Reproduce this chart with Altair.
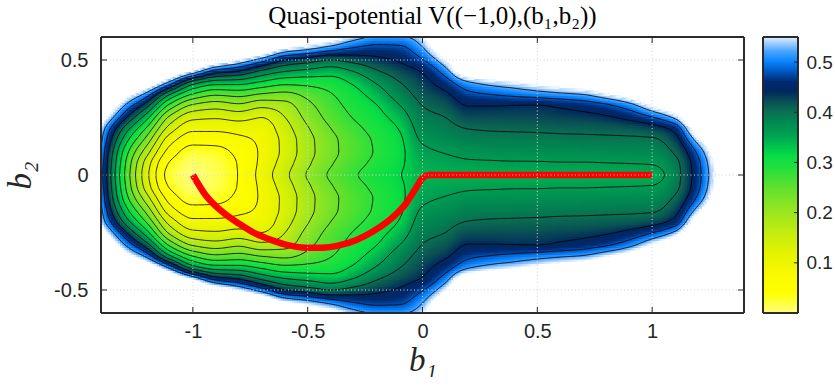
import numpy as np
import pandas as pd
import altair as alt

# ---------------------------------------------------------------------------
# Quasi-potential V((-1,0),(b1,b2)) sampled on a coarse lattice.
# Columns: b1 from -1.4 to 1.4 (step 0.1); rows: b2 >= 0 (step 0.05).
# The field is symmetric in b2, the lower half is the mirror image.
# ---------------------------------------------------------------------------
b1_nodes = [-1.4, -1.3, -1.2, -1.1, -1.0, -0.9, -0.8, -0.7, -0.6, -0.5,
            -0.4, -0.3, -0.2, -0.1, 0.0, 0.1, 0.2, 0.3, 0.4, 0.5,
            0.6, 0.7, 0.8, 0.9, 1.0, 1.1, 1.2, 1.3, 1.4]
b2_nodes = [0.0, 0.05, 0.1, 0.15, 0.2, 0.25, 0.3, 0.35, 0.4, 0.45, 0.5, 0.55, 0.6]

v_b2_000 = [0.500, 0.285, 0.130, 0.025, 0.000, 0.012, 0.042, 0.095, 0.149, 0.204, 0.246, 0.275, 0.298, 0.318,
            0.340, 0.342, 0.342, 0.342, 0.342, 0.342, 0.342, 0.343, 0.343, 0.344, 0.345, 0.385, 0.465, 0.600, 0.800]
v_b2_005 = [0.505, 0.292, 0.140, 0.036, 0.006, 0.016, 0.043, 0.090, 0.139, 0.193, 0.236, 0.266, 0.290, 0.313,
            0.344, 0.350, 0.355, 0.356, 0.357, 0.357, 0.358, 0.358, 0.359, 0.360, 0.362, 0.390, 0.470, 0.610, 0.810]
v_b2_010 = [0.515, 0.310, 0.175, 0.063, 0.023, 0.028, 0.050, 0.087, 0.131, 0.185, 0.228, 0.259, 0.284, 0.310,
            0.352, 0.362, 0.369, 0.371, 0.372, 0.373, 0.374, 0.375, 0.376, 0.377, 0.378, 0.405, 0.490, 0.640, 0.840]
v_b2_015 = [0.530, 0.345, 0.220, 0.095, 0.053, 0.053, 0.068, 0.089, 0.132, 0.186, 0.229, 0.260, 0.286, 0.313,
            0.364, 0.375, 0.385, 0.387, 0.388, 0.389, 0.390, 0.391, 0.392, 0.393, 0.394, 0.425, 0.540, 0.700, 0.900]
v_b2_020 = [0.548, 0.390, 0.270, 0.140, 0.088, 0.088, 0.095, 0.099, 0.142, 0.196, 0.239, 0.269, 0.294, 0.322,
            0.376, 0.388, 0.400, 0.403, 0.404, 0.405, 0.407, 0.408, 0.410, 0.413, 0.422, 0.452, 0.620, 0.780, 0.980]
v_b2_025 = [0.600, 0.455, 0.333, 0.190, 0.130, 0.124, 0.133, 0.120, 0.159, 0.212, 0.253, 0.282, 0.306, 0.337,
            0.388, 0.400, 0.420, 0.421, 0.421, 0.422, 0.425, 0.428, 0.435, 0.450, 0.477, 0.530, 0.720, 0.880, 1.080]
v_b2_030 = [0.680, 0.520, 0.410, 0.264, 0.190, 0.175, 0.188, 0.168, 0.183, 0.228, 0.264, 0.293, 0.318, 0.358,
            0.400, 0.415, 0.440, 0.440, 0.438, 0.437, 0.445, 0.455, 0.470, 0.500, 0.560, 0.640, 0.820, 0.980, 1.180]
v_b2_035 = [0.780, 0.600, 0.500, 0.360, 0.275, 0.245, 0.253, 0.235, 0.228, 0.252, 0.277, 0.305, 0.338, 0.380,
            0.413, 0.433, 0.469, 0.480, 0.490, 0.500, 0.510, 0.520, 0.550, 0.590, 0.660, 0.750, 0.920, 1.080, 1.280]
v_b2_040 = [0.880, 0.700, 0.620, 0.500, 0.375, 0.335, 0.332, 0.310, 0.290, 0.292, 0.300, 0.325, 0.362, 0.398,
            0.426, 0.460, 0.512, 0.535, 0.550, 0.570, 0.590, 0.610, 0.640, 0.690, 0.760, 0.850, 1.020, 1.180, 1.380]
v_b2_045 = [0.980, 0.800, 0.750, 0.650, 0.550, 0.460, 0.435, 0.390, 0.360, 0.348, 0.338, 0.360, 0.395, 0.420,
            0.443, 0.500, 0.620, 0.640, 0.660, 0.680, 0.700, 0.720, 0.750, 0.790, 0.860, 0.950, 1.120, 1.280, 1.480]
v_b2_050 = [1.080, 0.900, 0.880, 0.800, 0.720, 0.620, 0.560, 0.500, 0.440, 0.420, 0.400, 0.415, 0.430, 0.445,
            0.477, 0.560, 0.750, 0.770, 0.780, 0.800, 0.820, 0.840, 0.860, 0.890, 0.960, 1.050, 1.220, 1.380, 1.580]
v_b2_055 = [1.180, 1.000, 1.000, 0.950, 0.900, 0.780, 0.700, 0.640, 0.560, 0.530, 0.500, 0.475, 0.465, 0.470,
            0.515, 0.650, 0.850, 0.870, 0.880, 0.900, 0.920, 0.940, 0.960, 0.990, 1.060, 1.150, 1.320, 1.480, 1.680]
v_b2_060 = [1.280, 1.100, 1.120, 1.100, 1.050, 0.950, 0.850, 0.780, 0.700, 0.630, 0.590, 0.540, 0.515, 0.515,
            0.550, 0.750, 0.950, 0.970, 0.980, 1.000, 1.020, 1.040, 1.060, 1.090, 1.160, 1.250, 1.420, 1.580, 1.780]

v_rows = [v_b2_000, v_b2_005, v_b2_010, v_b2_015, v_b2_020, v_b2_025, v_b2_030,
          v_b2_035, v_b2_040, v_b2_045, v_b2_050, v_b2_055, v_b2_060]

# minimum action path from (-1,0) to (1,0)
path_b1 = [-1.0, -0.945, -0.872, -0.800, -0.727, -0.654, -0.581, -0.509, -0.436, -0.363,
           -0.290, -0.218, -0.145, -0.072, -0.029, 0.0, 0.03, 0.1, 1.0]
path_b2 = [0.0, -0.087, -0.160, -0.211, -0.255, -0.284, -0.306, -0.316, -0.316, -0.306,
           -0.284, -0.247, -0.197, -0.124, -0.058, -0.014, 0.0, 0.0, 0.0]

contour_levels = [0.04, 0.08, 0.12, 0.16, 0.20, 0.24, 0.28, 0.32, 0.36, 0.40, 0.44, 0.48, 0.52]
b1_ticks = [-1, -0.5, 0, 0.5, 1]
b2_ticks = [-0.5, 0, 0.5]
cbar_ticks = [0.1, 0.2, 0.3, 0.4, 0.5]

# colormap: yellow -> green -> navy -> light blue
cmap_stops = [0.000, 0.040, 0.080, 0.120, 0.160, 0.200, 0.250, 0.290, 0.310, 0.330, 0.350,
              0.380, 0.400, 0.420, 0.440, 0.460, 0.480, 0.500, 0.520, 0.540, 0.550]
cmap_colors = ["#ffff7a", "#ffff00", "#f8f800", "#e2f300", "#c2ec10", "#9ae620", "#5ee02e",
               "#1ee03e", "#0ade44", "#00c64c", "#00a552", "#008852", "#0a7052", "#0a5054",
               "#00285e", "#002a70", "#0058c0", "#0a84ff", "#48a4ff", "#b4d6ff", "#eef6ff"]
V_MAX = 0.55


def pchip(xk, yk, xq):
    """Shape-preserving piecewise cubic Hermite interpolation."""
    xk = np.asarray(xk, float)
    yk = np.asarray(yk, float)
    xq = np.asarray(xq, float)
    h = np.diff(xk)
    delta = np.diff(yk) / h
    n = len(xk)
    d = np.zeros(n)
    for k in range(1, n - 1):
        if delta[k - 1] * delta[k] > 0:
            w1 = 2 * h[k] + h[k - 1]
            w2 = h[k] + 2 * h[k - 1]
            d[k] = (w1 + w2) / (w1 / delta[k - 1] + w2 / delta[k])

    def end_slope(h0, h1, d0, d1):
        s = ((2 * h0 + h1) * d0 - h0 * d1) / (h0 + h1)
        if np.sign(s) != np.sign(d0):
            return 0.0
        if np.sign(d0) != np.sign(d1) and abs(s) > abs(3 * d0):
            return 3 * d0
        return s

    d[0] = end_slope(h[0], h[1], delta[0], delta[1])
    d[-1] = end_slope(h[-1], h[-2], delta[-1], delta[-2])
    idx = np.clip(np.searchsorted(xk, xq) - 1, 0, n - 2)
    t = (xq - xk[idx]) / h[idx]
    h00 = 2 * t**3 - 3 * t**2 + 1
    h10 = t**3 - 2 * t**2 + t
    h01 = -2 * t**3 + 3 * t**2
    h11 = t**3 - t**2
    return (h00 * yk[idx] + h10 * h[idx] * d[idx]
            + h01 * yk[idx + 1] + h11 * h[idx] * d[idx + 1])


# full symmetric lattice (b2 from -0.6 to 0.6)
b2_full = [-b for b in reversed(b2_nodes[1:])] + b2_nodes
rows_full = np.array(list(reversed(v_rows[1:])) + v_rows)

# fine rendering lattice
STEP = 0.01
xs = np.round(np.linspace(-1.4, 1.4, 281), 4)
ys = np.round(np.linspace(-0.6, 0.6, 121), 4)
Zy = np.column_stack([pchip(b2_full, rows_full[:, c], ys) for c in range(len(b1_nodes))])
Z = np.vstack([pchip(b1_nodes, Zy[r, :], xs) for r in range(len(ys))])


def trace_contours(level):
    """Marching squares on the fine lattice; returns polylines."""
    up = Z > level
    s = (up[:-1, :-1].astype(int) + up[:-1, 1:] + up[1:, :-1] + up[1:, 1:])
    js, iis = np.nonzero((s > 0) & (s < 4))
    nbr = {}

    def link(a, b):
        nbr.setdefault(a, []).append(b)
        nbr.setdefault(b, []).append(a)

    for j, i in zip(js, iis):
        c00, c10, c01, c11 = up[j, i], up[j, i + 1], up[j + 1, i], up[j + 1, i + 1]
        eb, et = ("h", j, i), ("h", j + 1, i)
        el, er = ("v", j, i), ("v", j, i + 1)
        crossed = []
        if c00 != c10:
            crossed.append(eb)
        if c10 != c11:
            crossed.append(er)
        if c01 != c11:
            crossed.append(et)
        if c00 != c01:
            crossed.append(el)
        if len(crossed) == 2:
            link(crossed[0], crossed[1])
        elif len(crossed) == 4:
            centre = (Z[j, i] + Z[j, i + 1] + Z[j + 1, i] + Z[j + 1, i + 1]) / 4 > level
            if centre == c00:
                link(eb, er)
                link(el, et)
            else:
                link(el, eb)
                link(et, er)

    def point(key):
        kind, j, i = key
        if kind == "h":
            z0, z1 = Z[j, i], Z[j, i + 1]
            f = (level - z0) / (z1 - z0)
            return xs[i] + f * (xs[i + 1] - xs[i]), ys[j]
        z0, z1 = Z[j, i], Z[j + 1, i]
        f = (level - z0) / (z1 - z0)
        return xs[i], ys[j] + f * (ys[j + 1] - ys[j])

    seen = set()
    lines = []
    starts = [k for k, v in nbr.items() if len(v) == 1] + list(nbr.keys())
    for s0 in starts:
        if s0 in seen:
            continue
        chain = [s0]
        seen.add(s0)
        cur = s0
        while True:
            nxt = [n for n in nbr[cur] if n not in seen]
            if not nxt:
                if len(chain) > 2 and s0 in nbr[cur]:
                    chain.append(s0)
                break
            cur = nxt[0]
            seen.add(cur)
            chain.append(cur)
        lines.append([point(k) for k in chain])
    return lines


# heat-map cells (everything above V_MAX is left white)
XX, YY = np.meshgrid(xs, ys)
inside = Z <= V_MAX + 0.005
heat_df = pd.DataFrame({"x": XX[inside], "y": YY[inside], "v": np.round(Z[inside], 4)})

# contour polylines
crow = []
pid = 0
for lev in contour_levels:
    for line in trace_contours(lev):
        for k, (px, py) in enumerate(line):
            crow.append({"pid": pid, "k": k, "x": round(float(px), 4), "y": round(float(py), 4)})
        pid += 1
contour_df = pd.DataFrame(crow)

path_df = pd.DataFrame({"x": path_b1, "y": path_b2})
xt_df = pd.DataFrame({"t": b1_ticks})
yt_df = pd.DataFrame({"t": b2_ticks})

W, H = 643, 276
AX = "#262626"

cscale = alt.Scale(domain=cmap_stops, range=cmap_colors, interpolate="rgb", clamp=True)
xscale = alt.Scale(domain=[-1.4, 1.4], nice=False, zero=False)
yscale = alt.Scale(domain=[-0.6, 0.6], nice=False, zero=False)
minus_expr = "datum.value < 0 ? '-' + format(-datum.value, '~g') : format(datum.value, '~g')"
x_axis = alt.Axis(values=b1_ticks, title="b₁", labelExpr=minus_expr, labelPadding=8,
                  titlePadding=3, labelFlush=False)
y_axis = alt.Axis(values=b2_ticks, title="b₂", labelExpr=minus_expr, labelPadding=13,
                  titlePadding=16, labelFlush=False)


def X(field):
    return alt.X(field, type="quantitative", scale=xscale, axis=x_axis)


def Y(field):
    return alt.Y(field, type="quantitative", scale=yscale, axis=y_axis)


half = STEP * 0.72
heat = alt.Chart(heat_df).mark_rect(clip=True, strokeWidth=0).transform_calculate(
    x1=f"datum.x - {half}", x2=f"datum.x + {half}",
    y1=f"datum.y - {half}", y2=f"datum.y + {half}",
).encode(
    x=X("x1"), x2="x2:Q", y=Y("y1"), y2="y2:Q",
    color=alt.Color("v:Q", scale=cscale, legend=None),
)

contours = alt.Chart(contour_df).mark_line(color="black", strokeWidth=0.8, clip=True).encode(
    x=X("x"), y=Y("y"), detail="pid:N", order="k:Q"
)

red_path = alt.Chart(path_df).mark_line(color="#ff0000", strokeWidth=6.5, interpolate="monotone",
                                        strokeCap="butt").encode(x=X("x"), y=Y("y"))

grid_x = alt.Chart(xt_df).mark_rule(color="#d6d6d6", strokeWidth=1, strokeDash=[1, 2.5]).encode(x=X("t"))
grid_y = alt.Chart(yt_df).mark_rule(color="#d6d6d6", strokeWidth=1, strokeDash=[1, 2.5]).encode(y=Y("t"))

tick_b = alt.Chart(xt_df).mark_rule(color=AX, strokeWidth=1).encode(
    x=X("t"), y=alt.value(H), y2=alt.value(H - 6))
tick_t = alt.Chart(xt_df).mark_rule(color=AX, strokeWidth=1).encode(
    x=X("t"), y=alt.value(0), y2=alt.value(6))
tick_l = alt.Chart(yt_df).mark_rule(color=AX, strokeWidth=1).encode(
    y=Y("t"), x=alt.value(0), x2=alt.value(6))
tick_r = alt.Chart(yt_df).mark_rule(color=AX, strokeWidth=1).encode(
    y=Y("t"), x=alt.value(W), x2=alt.value(W - 6))
frame = alt.Chart(xt_df).mark_rect(filled=False, stroke=AX, strokeWidth=1).encode(
    x=alt.value(0), x2=alt.value(W), y=alt.value(0), y2=alt.value(H))

main = alt.layer(heat, contours, red_path, grid_x, grid_y, tick_b, tick_t, tick_l, tick_r, frame).properties(
    width=W, height=H)

# colour bar
cb_vals = np.round(np.arange(0, V_MAX, 0.0025), 4)
cb_df = pd.DataFrame({"v": cb_vals, "v2": np.round(cb_vals + 0.004, 4)})
cb_scale = alt.Scale(domain=[0, V_MAX], nice=False, zero=False)
cb_axis = alt.Axis(values=cbar_ticks, title=None, orient="right", labelPadding=8, labelFlush=False,
                   labelFontSize=19)
cb_t_df = pd.DataFrame({"t": cbar_ticks})
CBW = 35
cb_fill = alt.Chart(cb_df).mark_rect(clip=True, strokeWidth=0).encode(
    y=alt.Y("v:Q", scale=cb_scale, axis=cb_axis), y2="v2:Q",
    color=alt.Color("v:Q", scale=cscale, legend=None))
cb_ticks = alt.Chart(cb_t_df).mark_rule(color=AX, strokeWidth=1).encode(
    y=alt.Y("t:Q", scale=cb_scale, axis=cb_axis), x=alt.value(CBW), x2=alt.value(CBW - 4))
cb_frame = alt.Chart(cb_t_df).mark_rect(filled=False, stroke=AX, strokeWidth=1).encode(
    x=alt.value(0), x2=alt.value(CBW), y=alt.value(0), y2=alt.value(H))
colorbar = alt.layer(cb_fill, cb_ticks, cb_frame).properties(width=CBW, height=H)

chart = alt.hconcat(main, colorbar, spacing=17).resolve_scale(
    x="independent", y="independent"
).properties(
    title=alt.TitleParams(text="Quasi-potential V((−1,0),(b₁,b₂))", font="Liberation Serif",
                          fontSize=25, fontWeight="normal", color="black", anchor="middle",
                          offset=8, dx=14),
    padding={"left": 4, "top": 3, "right": 0, "bottom": 0},
).configure_view(strokeWidth=0).configure_axis(
    labelFont="Liberation Sans", labelFontSize=20, labelColor=AX,
    titleFont="Liberation Serif", titleFontStyle="italic", titleFontSize=33,
    titleFontWeight="normal", titleColor=AX,
    ticks=False, tickSize=0, domain=False, grid=False,
)

chart.save("out.html", embed_options={"renderer": "svg", "actions": False})
